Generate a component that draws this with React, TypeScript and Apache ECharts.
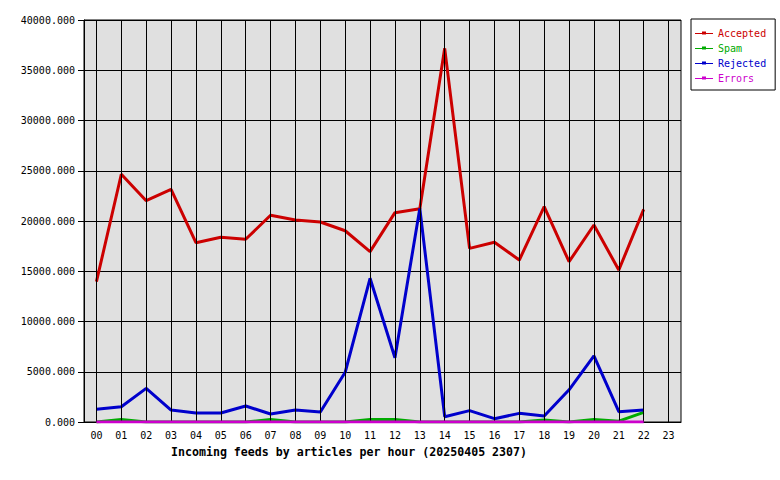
import React, { useEffect, useRef } from "react";
import * as echarts from "echarts";

const hours = ["00","01","02","03","04","05","06","07","08","09","10","11","12","13","14","15","16","17","18","19","20","21","22","23"];
const accepted = [13960,24650,22020,23150,17840,18380,18180,20570,20100,19900,19030,16950,20830,21220,37180,17280,17880,16120,21420,15950,19600,15120,21160];
const spam = [0,250,0,0,0,0,0,250,0,0,0,250,250,0,0,0,0,0,200,0,250,80,960];
const rejected = [1260,1520,3350,1190,900,900,1590,800,1190,1000,4950,14300,6400,21250,530,1130,330,860,600,3200,6570,1030,1190];
const errors = [0,0,0,0,0,0,0,0,0,0,0,0,0,0,0,0,0,0,0,0,0,0,0];
const yTicks = { min: 0, max: 40000, interval: 5000 };
const xTitle = "Incoming feeds by articles per hour (20250405 2307)";

const seriesDefs = [
  { name: "Accepted", data: accepted, color: "#cc0000" },
  { name: "Spam", data: spam, color: "#00aa00" },
  { name: "Rejected", data: rejected, color: "#0000cc" },
  { name: "Errors", data: errors, color: "#cc00cc" },
];

const MONO = "'DejaVu Sans Mono', 'Liberation Mono', monospace";
const LEGEND_ICON =
  "path://M0,4.5L7,4.5L7,3L11,3L11,4.5L18,4.5L18,5.5L11,5.5L11,6L7,6L7,5.5L0,5.5Z";

export default function App() {
  const ref = useRef<HTMLDivElement>(null);
  useEffect(() => {
    if (!ref.current) return;
    const chart = echarts.init(ref.current, null, { renderer: "svg" });
    chart.setOption({
      animation: false,
      backgroundColor: "#ffffff",
      grid: {
        left: 84,
        top: 20,
        right: 99,
        bottom: 58,
        show: true,
        backgroundColor: "#e0e0e0",
        borderColor: "#000000",
        borderWidth: 1,
      },
      legend: {
        orient: "vertical",
        left: 691,
        top: 19,
        backgroundColor: "#ffffff",
        borderColor: "#000000",
        borderWidth: 1,
        borderRadius: 0,
        padding: [9, 9, 7, 4],
        itemWidth: 18,
        itemHeight: 10,
        itemGap: 5,
        textStyle: { fontFamily: MONO, fontSize: 10 },
        data: seriesDefs.map((s) => ({
          name: s.name,
          icon: LEGEND_ICON,
          itemStyle: { color: s.color, borderWidth: 0 },
          textStyle: { color: s.color },
        })),
      },
      xAxis: {
        type: "category",
        data: hours,
        boundaryGap: true,
        axisLine: { show: true, lineStyle: { color: "#000000", width: 1 } },
        axisTick: { show: false },
        splitLine: { show: false },
        axisLabel: { color: "#000000", fontFamily: MONO, fontSize: 10, margin: 8 },
      },
      yAxis: {
        type: "value",
        min: yTicks.min,
        max: yTicks.max,
        interval: yTicks.interval,
        axisLine: { show: true, lineStyle: { color: "#000000", width: 1 } },
        axisTick: { show: true, length: 6, lineStyle: { color: "#000000" } },
        splitLine: { show: true, lineStyle: { color: "#000000", width: 1 } },
        axisLabel: {
          color: "#000000",
          fontFamily: MONO,
          fontSize: 10,
          margin: 9,
          formatter: (v: number) => v.toFixed(3),
        },
      },
      graphic: [
        {
          type: "text",
          x: 349,
          y: 452,
          style: {
            text: xTitle,
            fill: "#000000",
            font: `bold 11.6px ${MONO}`,
            textAlign: "center",
            textVerticalAlign: "middle",
          },
        },
      ],
      series: [
        {
          name: "__grid",
          type: "line",
          data: [],
          z: 1,
          silent: true,
          markLine: {
            silent: true,
            symbol: ["none", "none"],
            label: { show: false },
            lineStyle: { color: "#000000", width: 1, type: "solid" },
            emphasis: { disabled: true },
            data: hours.map((h) => ({ xAxis: h })),
          },
        },
        ...seriesDefs.map((s, i) => ({
          name: s.name,
          type: "line",
          data: s.data,
          z: 2 + i,
          symbol: "none",
          showSymbol: false,
          color: s.color,
          lineStyle: { color: s.color, width: 3 },
          itemStyle: { color: s.color },
        })),
      ],
    });
    return () => chart.dispose();
  }, []);
  return (
    <div
      ref={ref}
      style={{ position: "fixed", left: 0, top: 0, width: 780, height: 480 }}
    />
  );
}
